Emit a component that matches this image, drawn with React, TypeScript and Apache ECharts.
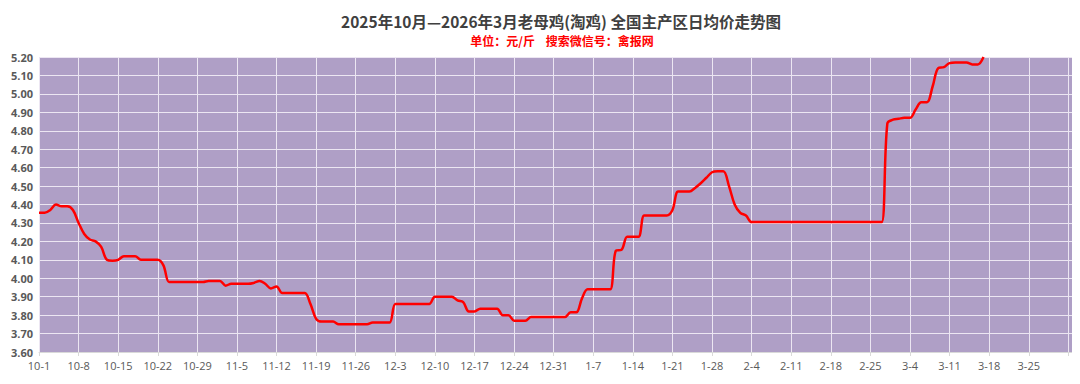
import React, { useEffect, useRef } from "react";
import * as echarts from "echarts";

const titleText = "2025年10月—2026年3月老母鸡(淘鸡) 全国主产区日均价走势图";
const subtitleText = "单位：元/斤    搜索微信号：禽报网";

// daily average price, 10-1 .. 3-17
const prices: number[] = [
  4.355, 4.355, 4.37, 4.4, 4.39, 4.39, 4.37, 4.3, 4.24, 4.21,
  4.2, 4.17, 4.1, 4.095, 4.1, 4.12, 4.12, 4.12, 4.1, 4.1,
  4.1, 4.1, 4.07, 3.98, 3.98, 3.98, 3.98, 3.98, 3.98, 3.98,
  3.985, 3.985, 3.985, 3.96, 3.97, 3.97, 3.97, 3.97, 3.975, 3.985,
  3.97, 3.945, 3.955, 3.92, 3.92, 3.92, 3.92, 3.92, 3.86, 3.78,
  3.765, 3.765, 3.765, 3.75, 3.75, 3.75, 3.75, 3.75, 3.75, 3.76,
  3.76, 3.76, 3.76, 3.86, 3.86, 3.86, 3.86, 3.86, 3.86, 3.86,
  3.9, 3.9, 3.9, 3.9, 3.88, 3.87, 3.82, 3.82, 3.835, 3.835,
  3.835, 3.835, 3.8, 3.8, 3.77, 3.77, 3.77, 3.79, 3.79, 3.79,
  3.79, 3.79, 3.79, 3.79, 3.815, 3.815, 3.89, 3.94, 3.94, 3.94,
  3.94, 3.94, 4.15, 4.155, 4.225, 4.225, 4.225, 4.34, 4.34, 4.34,
  4.34, 4.34, 4.37, 4.47, 4.47, 4.47, 4.49, 4.515, 4.545, 4.575,
  4.58, 4.58, 4.5, 4.4, 4.355, 4.34, 4.305, 4.305, 4.305, 4.305,
  4.305, 4.305, 4.305, 4.305, 4.305, 4.305, 4.305, 4.305, 4.305, 4.305,
  4.305, 4.305, 4.305, 4.305, 4.305, 4.305, 4.305, 4.305, 4.305, 4.305,
  4.84, 4.86, 4.865, 4.87, 4.87, 4.915, 4.955, 4.955, 5.04, 5.14,
  5.145, 5.167, 5.17, 5.17, 5.17, 5.16, 5.16, 5.2,
];

// month lengths for the category axis (10-1 .. 4-2)
const months: [number, number][] = [
  [10, 31],
  [11, 30],
  [12, 31],
  [1, 31],
  [2, 28],
  [3, 31],
  [4, 2],
];

const lastLabelIndex = 175; // 3-25

const yTicks = { min: 3.6, max: 5.2, interval: 0.1 };

function buildDates(): string[] {
  const out: string[] = [];
  for (const [m, n] of months) {
    for (let d = 1; d <= n; d++) out.push(`${m}-${d}`);
  }
  return out;
}

export default function App() {
  const ref = useRef<HTMLDivElement>(null);
  useEffect(() => {
    if (!ref.current) return;
    const chart = echarts.init(ref.current, null, { renderer: "svg" });
    const dates = buildDates();
    const values = dates.map((_, i) => (i < prices.length ? prices[i] : null));
    const weekly = (i: number) => i % 7 === 0;
    chart.setOption({
      animation: false,
      backgroundColor: "#ffffff",
      title: [
        {
          text: titleText,
          left: 556,
          top: 8,
          textAlign: "center",
          textStyle: {
            fontFamily: "Noto Sans CJK SC",
            fontSize: 15.5,
            fontWeight: "bold",
            color: "#404040",
          },
        },
        {
          text: subtitleText,
          left: 557,
          top: 29,
          textAlign: "center",
          textStyle: {
            fontFamily: "Noto Sans CJK SC",
            fontSize: 12,
            fontWeight: "bold",
            color: "#ff0000",
          },
        },
      ],
      grid: {
        left: 39,
        right: 6,
        top: 57,
        bottom: 32,
        show: true,
        backgroundColor: "#af9fc6",
        borderWidth: 0,
      },
      xAxis: {
        type: "category",
        data: dates,
        boundaryGap: false,
        axisLine: { show: true, lineStyle: { color: "#d9d9d9", width: 1 } },
        axisTick: {
          show: true,
          interval: weekly,
          length: 4,
          lineStyle: { color: "#d9d9d9" },
        },
        axisLabel: {
          interval: (i: number) => weekly(i) && i <= lastLabelIndex,
          color: "#595959",
          fontSize: 11,
          fontFamily: "Open Sans",
          margin: 8,
        },
        splitLine: {
          show: true,
          interval: weekly,
          lineStyle: { color: "#ece6f2", width: 1 },
        },
      },
      yAxis: {
        type: "value",
        min: yTicks.min,
        max: yTicks.max,
        interval: yTicks.interval,
        axisLine: { show: false },
        axisTick: { show: false },
        axisLabel: {
          color: "#595959",
          fontSize: 11,
          fontWeight: "bold",
          fontFamily: "Open Sans",
          margin: 6,
          formatter: (v: number) => v.toFixed(2),
        },
        splitLine: { show: true, lineStyle: { color: "#ece6f2", width: 1 } },
      },
      series: [
        {
          type: "line",
          data: values,
          showSymbol: false,
          smooth: 0.35,
          connectNulls: false,
          lineStyle: { color: "#ff0000", width: 2.5 },
          itemStyle: { color: "#ff0000" },
          clip: true,
        },
      ],
    });
    return () => chart.dispose();
  }, []);
  return <div ref={ref} style={{ width: 1080, height: 384, margin: -8 }} />;
}
